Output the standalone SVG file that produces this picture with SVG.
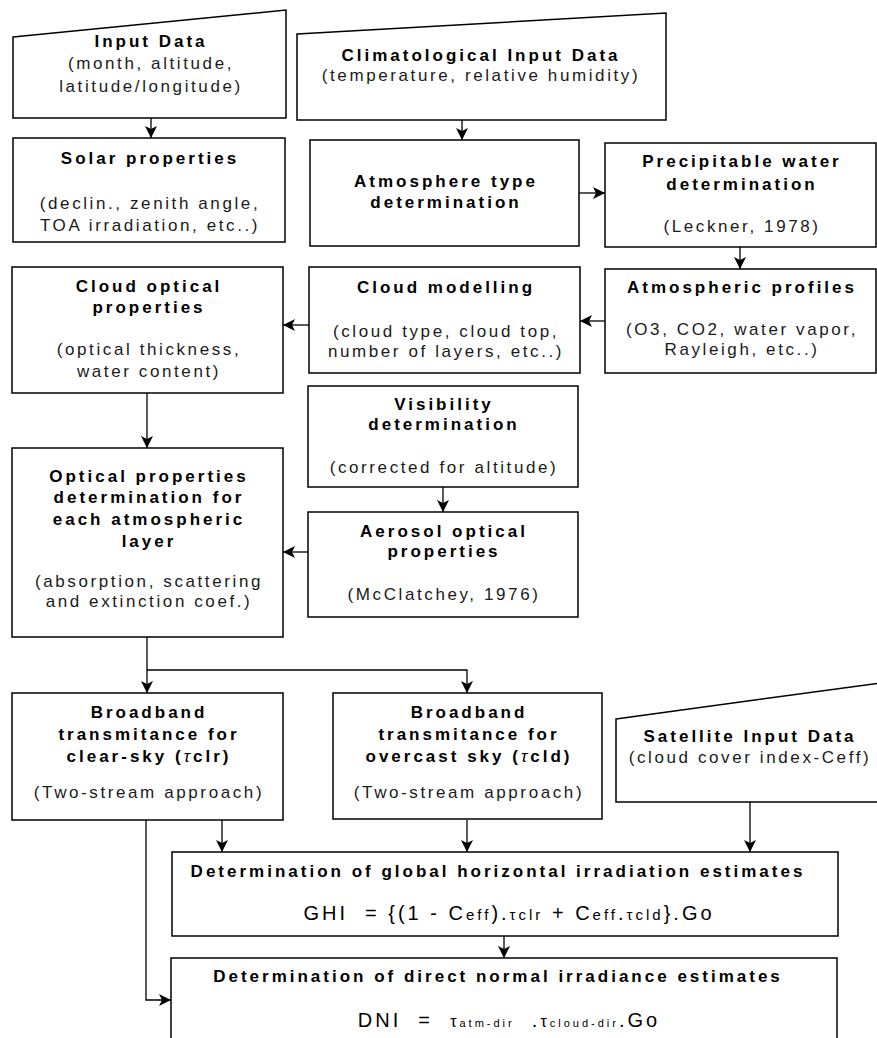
<svg xmlns="http://www.w3.org/2000/svg" width="877" height="1038" viewBox="0 0 877 1038">
<style>
.box{fill:#fff;stroke:#000;stroke-width:1.5}
.t{font-family:"Liberation Sans",Arial,sans-serif;font-size:17px;font-weight:bold;letter-spacing:3px;text-anchor:middle;fill:#000}
.s{font-family:"Liberation Sans",Arial,sans-serif;font-size:17px;letter-spacing:2.6px;text-anchor:middle;fill:#1a1a1a}
.f{font-family:"Liberation Sans",Arial,sans-serif;font-size:20px;letter-spacing:3px;text-anchor:middle;fill:#000}
.tau{font-style:italic;font-weight:normal}
.a{stroke:#000;stroke-width:1.3;fill:none;marker-end:url(#ah)}
</style>
<defs>
<marker id="ah" markerUnits="userSpaceOnUse" markerWidth="13" markerHeight="12" refX="12" refY="6" orient="auto">
<path d="M0,0 L12,6 L0,12 L3,6 z" fill="#000"/>
</marker>
</defs>
<rect width="877" height="1038" fill="#fff"/>

<g id="connectors">
<path class="a" d="M151,118 V138"/>
<path class="a" d="M462,120 V140"/>
<path class="a" d="M579,193 H605"/>
<path class="a" d="M740,247 V269"/>
<path class="a" d="M605,321 H580"/>
<path class="a" d="M309,325 H283"/>
<path class="a" d="M147,393 V448"/>
<path class="a" d="M443,487 V512"/>
<path class="a" d="M308,552 H283"/>
<path class="a" d="M147,637 V693"/>
<path class="a" d="M147,670 H467 V693"/>
<path class="a" d="M222,820 V852"/>
<path class="a" d="M467,820 V852"/>
<path class="a" d="M750,802 V852"/>
<path class="a" d="M504,936 V958"/>
<path class="a" d="M146,820 V1000 H171"/>
</g>

<g id="input-data">
<polygon class="box" points="13,37 286,10 286,118 13,118"/>
<text class="t" x="151" y="47">Input Data</text>
<text class="s" x="151" y="69">(month, altitude,</text>
<text class="s" x="151" y="92">latitude/longitude)</text>
</g>

<g id="climatological-input">
<polygon class="box" points="297,34 666,13 666,120 297,120"/>
<text class="t" x="481" y="61">Climatological Input Data</text>
<text class="s" x="481" y="81">(temperature, relative humidity)</text>
</g>

<g id="solar-properties">
<rect class="box" x="13" y="138" width="272" height="104"/>
<text class="t" x="150" y="164">Solar properties</text>
<text class="s" x="150" y="209">(declin., zenith angle,</text>
<text class="s" x="150" y="231">TOA irradiation, etc..)</text>
</g>

<g id="atmosphere-type">
<rect class="box" x="310" y="140" width="269" height="106"/>
<text class="t" x="446" y="187">Atmosphere type</text>
<text class="t" x="446" y="208">determination</text>
</g>

<g id="precipitable-water">
<rect class="box" x="605" y="143" width="271" height="104"/>
<text class="t" x="742" y="167">Precipitable water</text>
<text class="t" x="742" y="190">determination</text>
<text class="s" x="742" y="232">(Leckner, 1978)</text>
</g>

<g id="atmospheric-profiles">
<rect class="box" x="605" y="269" width="271" height="104"/>
<text class="t" x="742" y="293">Atmospheric profiles</text>
<text class="s" x="742" y="335">(O3, CO2, water vapor,</text>
<text class="s" x="742" y="355">Rayleigh, etc..)</text>
</g>

<g id="cloud-modelling">
<rect class="box" x="309" y="267" width="271" height="106"/>
<text class="t" x="446" y="293">Cloud modelling</text>
<text class="s" x="446" y="337">(cloud type, cloud top,</text>
<text class="s" x="446" y="357">number of layers, etc..)</text>
</g>

<g id="cloud-optical">
<rect class="box" x="12" y="267" width="271" height="126"/>
<text class="t" x="149" y="292">Cloud optical</text>
<text class="t" x="149" y="313">properties</text>
<text class="s" x="149" y="355">(optical thickness,</text>
<text class="s" x="149" y="377">water content)</text>
</g>

<g id="visibility">
<rect class="box" x="308" y="386" width="270" height="101"/>
<text class="t" x="444" y="410">Visibility</text>
<text class="t" x="444" y="430">determination</text>
<text class="s" x="444" y="473">(corrected for altitude)</text>
</g>

<g id="aerosol-optical">
<rect class="box" x="308" y="512" width="270" height="105"/>
<text class="t" x="444" y="537">Aerosol optical</text>
<text class="t" x="444" y="557">properties</text>
<text class="s" x="444" y="600">(McClatchey, 1976)</text>
</g>

<g id="optical-properties-layer">
<rect class="box" x="12" y="448" width="271" height="189"/>
<text class="t" x="149" y="482">Optical properties</text>
<text class="t" x="149" y="503">determination for</text>
<text class="t" x="149" y="525">each atmospheric</text>
<text class="t" x="149" y="547">layer</text>
<text class="s" x="149" y="587">(absorption, scattering</text>
<text class="s" x="149" y="607">and extinction coef.)</text>
</g>

<g id="broadband-clear">
<rect class="box" x="12" y="693" width="271" height="127"/>
<text class="t" x="149" y="718">Broadband</text>
<text class="t" x="149" y="740">transmitance for</text>
<text class="t" x="149" y="762">clear-sky (<tspan class="tau">τ</tspan>clr)</text>
<text class="s" x="149" y="798">(Two-stream approach)</text>
</g>

<g id="broadband-overcast">
<rect class="box" x="333" y="693" width="269" height="126"/>
<text class="t" x="469" y="718">Broadband</text>
<text class="t" x="469" y="740">transmitance for</text>
<text class="t" x="469" y="762">overcast sky (<tspan class="tau">τ</tspan>cld)</text>
<text class="s" x="469" y="798">(Two-stream approach)</text>
</g>

<g id="satellite-input">
<polygon class="box" points="616,719 880,683 880,802 616,802"/>
<text class="t" x="750" y="742">Satellite Input Data</text>
<text class="s" x="750" y="763">(cloud cover index-Ceff)</text>
</g>

<g id="ghi">
<rect class="box" x="172" y="852" width="666" height="84"/>
<text class="t" x="498" y="877">Determination of global horizontal irradiation estimates</text>
<text class="f" x="509" y="920">GHI&#160; = {(1 - C<tspan font-size="15">eff</tspan>).<tspan font-size="15">τclr</tspan> + C<tspan font-size="15">eff</tspan>.<tspan font-size="15">τcld</tspan>}.Go</text>
</g>

<g id="dni">
<rect class="box" x="171" y="958" width="666" height="90"/>
<text class="t" x="498" y="982">Determination of direct normal irradiance estimates</text>
<text class="f" x="509" y="1027">DNI&#160; =&#160; <tspan font-size="16">τ</tspan><tspan font-size="11">atm-dir</tspan>&#160; .<tspan font-size="16">τ</tspan><tspan font-size="11">cloud-dir</tspan>.Go</text>
</g>
</svg>
